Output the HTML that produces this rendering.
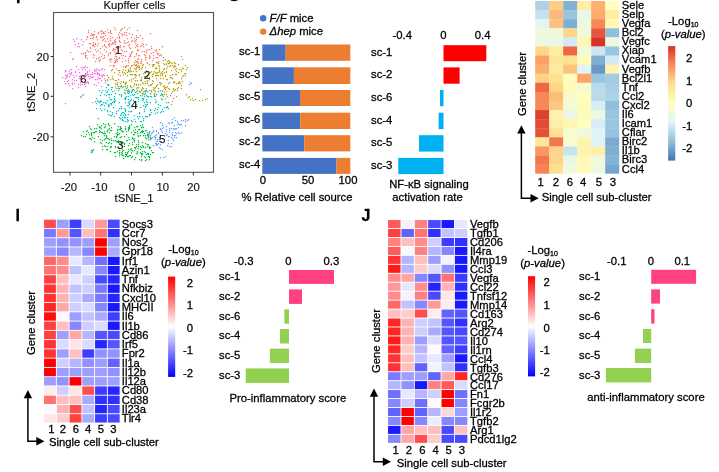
<!DOCTYPE html>
<html lang="en">
<head>
<meta charset="utf-8">
<title>Kupffer cells single cell sub-cluster figure</title>
<style>
html,body{margin:0;padding:0;background:#fff;}
body{width:719px;height:472px;overflow:hidden;}
svg{display:block;font-family:'Liberation Sans', Arial, Helvetica, sans-serif;}
text{fill:#000;stroke:#000;stroke-width:0.28px;paint-order:stroke;}
</style>
</head>
<body>
<svg width="719" height="472" viewBox="0 0 719 472">
<rect x="0" y="0" width="719" height="472" fill="#fff"/>
<rect x="53.50" y="12.50" width="160.00" height="159.80" fill="#FFFFFF" stroke="#555555" stroke-width="1.1"/>
<path d="M124.5 27.5h0M149.5 49.5h0M111.5 59.5h0M95.5 43.5h0M123.5 46.5h0M151.5 46.5h0M97.5 45.5h0M93.5 57.5h0M135.5 60.5h0M118.5 47.5h0M110.5 61.5h0M153.5 52.5h0M110.5 58.5h0M102.5 46.5h0M113.5 65.5h0M88.5 51.5h0M62.5 77.5h0M143.5 46.5h0M73.5 58.5h0M135.5 69.5h0M105.5 31.5h0M131.5 53.5h0M143.5 44.5h0M171.5 104.5h0M125.5 43.5h0M150.5 33.5h0M108.5 44.5h0M96.5 51.5h0M156.5 57.5h0M149.5 55.5h0M139.5 55.5h0M104.5 44.5h0M128.5 58.5h0M100.5 48.5h0M110.5 53.5h0M119.5 46.5h0M137.5 30.5h0M115.5 39.5h0M132.5 65.5h0M142.5 65.5h0M141.5 59.5h0M115.5 41.5h0M129.5 33.5h0M147.5 63.5h0M173.5 98.5h0M109.5 59.5h0M100.5 31.5h0M172.5 101.5h0M115.5 56.5h0M129.5 27.5h0M103.5 33.5h0M99.5 60.5h0M120.5 30.5h0M140.5 62.5h0M121.5 55.5h0M136.5 61.5h0M157.5 62.5h0M105.5 41.5h0M136.5 54.5h0M85.5 56.5h0M92.5 34.5h0M117.5 46.5h0M93.5 54.5h0M136.5 39.5h0M182.5 59.5h0M92.5 102.5h0M200.5 89.5h0M90.5 51.5h0M117.5 61.5h0M117.5 48.5h0M145.5 57.5h0M114.5 58.5h0M102.5 40.5h0M128.5 45.5h0M85.5 55.5h0M94.5 31.5h0M146.5 57.5h0M129.5 56.5h0M144.5 54.5h0M141.5 61.5h0M94.5 46.5h0M109.5 44.5h0M153.5 58.5h0M110.5 40.5h0M138.5 58.5h0M92.5 45.5h0M124.5 51.5h0M103.5 58.5h0M87.5 36.5h0M149.5 56.5h0M106.5 51.5h0M106.5 47.5h0M119.5 57.5h0M109.5 46.5h0M127.5 29.5h0M93.5 37.5h0M110.5 31.5h0M114.5 42.5h0M108.5 45.5h0M101.5 33.5h0M161.5 55.5h0M119.5 37.5h0M128.5 60.5h0M108.5 55.5h0M138.5 67.5h0M102.5 31.5h0M114.5 51.5h0M124.5 46.5h0M131.5 52.5h0M121.5 33.5h0M122.5 28.5h0M94.5 34.5h0M124.5 40.5h0M120.5 45.5h0M85.5 52.5h0M142.5 38.5h0M131.5 41.5h0M151.5 48.5h0M128.5 62.5h0M129.5 44.5h0M112.5 42.5h0M137.5 44.5h0M128.5 65.5h0M117.5 59.5h0M156.5 49.5h0M119.5 40.5h0M90.5 48.5h0M116.5 52.5h0M115.5 44.5h0M121.5 53.5h0M159.5 49.5h0M137.5 61.5h0M92.5 35.5h0M130.5 54.5h0M101.5 37.5h0M150.5 57.5h0M126.5 32.5h0M124.5 51.5h0M112.5 43.5h0M108.5 32.5h0M160.5 54.5h0M104.5 57.5h0M146.5 50.5h0M119.5 32.5h0M142.5 51.5h0M153.5 55.5h0M136.5 45.5h0M129.5 47.5h0M119.5 38.5h0M134.5 41.5h0M109.5 43.5h0M99.5 61.5h0M124.5 42.5h0M138.5 55.5h0M111.5 33.5h0M90.5 35.5h0M110.5 65.5h0M140.5 80.5h0M120.5 47.5h0M126.5 65.5h0M136.5 35.5h0M152.5 60.5h0M122.5 58.5h0M100.5 36.5h0M96.5 36.5h0M86.5 39.5h0M81.5 53.5h0M93.5 35.5h0M144.5 51.5h0M130.5 55.5h0M132.5 51.5h0M115.5 29.5h0M104.5 55.5h0M156.5 51.5h0M90.5 47.5h0M134.5 62.5h0M145.5 55.5h0M118.5 34.5h0M124.5 34.5h0M115.5 42.5h0M146.5 44.5h0M105.5 41.5h0M125.5 56.5h0M127.5 42.5h0M127.5 38.5h0M116.5 58.5h0M136.5 65.5h0M117.5 37.5h0M115.5 49.5h0M113.5 66.5h0M120.5 75.5h0M110.5 38.5h0M87.5 50.5h0M132.5 40.5h0M85.5 53.5h0M85.5 57.5h0M87.5 37.5h0M119.5 36.5h0M103.5 32.5h0M95.5 49.5h0M102.5 54.5h0M86.5 55.5h0M121.5 29.5h0M138.5 37.5h0M94.5 55.5h0M101.5 30.5h0M137.5 59.5h0M138.5 63.5h0M126.5 51.5h0M135.5 40.5h0M102.5 37.5h0M158.5 53.5h0M87.5 58.5h0M111.5 44.5h0M135.5 47.5h0M119.5 41.5h0M145.5 59.5h0M88.5 32.5h0M112.5 50.5h0M149.5 58.5h0M101.5 56.5h0M98.5 32.5h0M108.5 53.5h0M132.5 34.5h0M122.5 58.5h0M116.5 56.5h0M110.5 32.5h0M151.5 53.5h0M100.5 52.5h0M158.5 61.5h0M146.5 52.5h0M114.5 27.5h0M136.5 53.5h0M126.5 66.5h0M140.5 46.5h0M103.5 39.5h0M119.5 58.5h0M98.5 50.5h0M131.5 37.5h0M137.5 49.5h0M107.5 29.5h0M115.5 62.5h0M115.5 54.5h0M128.5 41.5h0M93.5 44.5h0M115.5 60.5h0M126.5 35.5h0M130.5 56.5h0M90.5 38.5h0M137.5 46.5h0M104.5 45.5h0M137.5 50.5h0M147.5 62.5h0M124.5 32.5h0M138.5 50.5h0M115.5 61.5h0M122.5 35.5h0M105.5 46.5h0M116.5 68.5h0M103.5 36.5h0M157.5 53.5h0M100.5 59.5h0M114.5 62.5h0M110.5 30.5h0M123.5 55.5h0M142.5 43.5h0M141.5 45.5h0M112.5 37.5h0M136.5 37.5h0M114.5 49.5h0M135.5 43.5h0M95.5 61.5h0M122.5 34.5h0M122.5 50.5h0M99.5 57.5h0M113.5 48.5h0M181.5 56.5h0M130.5 48.5h0M96.5 37.5h0M108.5 41.5h0M140.5 35.5h0M93.5 45.5h0M143.5 64.5h0M134.5 56.5h0M157.5 57.5h0M83.5 53.5h0M139.5 66.5h0M122.5 61.5h0M116.5 60.5h0M95.5 44.5h0M123.5 66.5h0M91.5 33.5h0M98.5 43.5h0M104.5 38.5h0M90.5 43.5h0M93.5 42.5h0M110.5 36.5h0M110.5 52.5h0M165.5 59.5h0M157.5 54.5h0M114.5 40.5h0M89.5 43.5h0M98.5 58.5h0M96.5 58.5h0M113.5 49.5h0M121.5 49.5h0M98.5 33.5h0M114.5 65.5h0M125.5 60.5h0M113.5 43.5h0M92.5 38.5h0M159.5 55.5h0M155.5 50.5h0M105.5 35.5h0M107.5 38.5h0M104.5 33.5h0M147.5 49.5h0M97.5 39.5h0M104.5 49.5h0M120.5 42.5h0M93.5 34.5h0M134.5 38.5h0" stroke="#F8766D" stroke-width="1.25" stroke-linecap="square" fill="none" opacity="0.95"/>
<path d="M133.5 78.5h0M129.5 80.5h0M125.5 66.5h0M147.5 81.5h0M136.5 84.5h0M176.5 96.5h0M179.5 69.5h0M122.5 87.5h0M148.5 71.5h0M110.5 79.5h0M168.5 83.5h0M164.5 88.5h0M107.5 80.5h0M178.5 64.5h0M137.5 61.5h0M175.5 63.5h0M127.5 90.5h0M175.5 69.5h0M185.5 65.5h0M154.5 88.5h0M107.5 75.5h0M139.5 69.5h0M125.5 83.5h0M171.5 77.5h0M182.5 76.5h0M125.5 86.5h0M164.5 68.5h0M156.5 67.5h0M163.5 69.5h0M140.5 92.5h0M153.5 81.5h0M145.5 76.5h0M173.5 88.5h0M165.5 98.5h0M113.5 79.5h0M172.5 78.5h0M128.5 69.5h0M130.5 74.5h0M117.5 82.5h0M179.5 82.5h0M128.5 89.5h0M163.5 96.5h0M124.5 72.5h0M167.5 61.5h0M202.5 100.5h0M158.5 75.5h0M114.5 72.5h0M156.5 86.5h0M120.5 83.5h0M166.5 64.5h0M147.5 96.5h0M111.5 70.5h0M169.5 62.5h0M130.5 85.5h0M153.5 65.5h0M136.5 85.5h0M118.5 74.5h0M174.5 62.5h0M134.5 64.5h0M144.5 91.5h0M145.5 83.5h0M139.5 75.5h0M132.5 90.5h0M181.5 71.5h0M150.5 93.5h0M141.5 80.5h0M158.5 88.5h0M155.5 72.5h0M125.5 73.5h0M165.5 87.5h0M170.5 75.5h0M152.5 83.5h0M127.5 92.5h0M123.5 81.5h0M155.5 75.5h0M162.5 71.5h0M142.5 88.5h0M169.5 63.5h0M143.5 83.5h0M134.5 84.5h0M147.5 83.5h0M141.5 68.5h0M124.5 89.5h0M141.5 79.5h0M164.5 94.5h0M183.5 68.5h0M137.5 87.5h0M112.5 78.5h0M136.5 91.5h0M177.5 88.5h0M152.5 66.5h0M165.5 75.5h0M163.5 78.5h0M164.5 72.5h0M142.5 67.5h0M137.5 66.5h0M169.5 61.5h0M116.5 88.5h0M135.5 77.5h0M166.5 72.5h0M134.5 62.5h0M172.5 65.5h0M151.5 84.5h0M134.5 74.5h0M166.5 87.5h0M176.5 71.5h0M165.5 89.5h0M138.5 84.5h0M175.5 89.5h0M166.5 68.5h0M155.5 68.5h0M119.5 70.5h0M115.5 80.5h0M138.5 65.5h0M146.5 88.5h0M160.5 73.5h0M160.5 82.5h0M190.5 99.5h0M135.5 75.5h0M174.5 82.5h0M143.5 73.5h0M127.5 75.5h0M159.5 82.5h0M142.5 82.5h0M131.5 79.5h0M178.5 87.5h0M199.5 100.5h0M161.5 94.5h0M112.5 76.5h0M192.5 98.5h0M112.5 69.5h0M133.5 71.5h0M145.5 67.5h0M186.5 94.5h0M207.5 98.5h0M146.5 70.5h0M152.5 64.5h0M168.5 88.5h0M160.5 84.5h0M156.5 75.5h0M173.5 89.5h0M116.5 84.5h0M139.5 67.5h0M152.5 80.5h0M180.5 83.5h0M127.5 85.5h0M149.5 77.5h0M177.5 90.5h0M143.5 93.5h0M153.5 87.5h0M156.5 68.5h0M136.5 64.5h0M176.5 83.5h0M132.5 74.5h0M153.5 73.5h0M205.5 99.5h0M147.5 71.5h0M135.5 65.5h0M143.5 91.5h0M158.5 65.5h0M162.5 74.5h0M108.5 85.5h0M149.5 79.5h0M181.5 85.5h0M131.5 74.5h0M181.5 78.5h0M145.5 91.5h0M154.5 71.5h0M176.5 68.5h0M149.5 64.5h0M187.5 67.5h0M122.5 71.5h0M176.5 68.5h0M123.5 86.5h0M123.5 82.5h0M172.5 63.5h0M162.5 75.5h0M164.5 92.5h0M130.5 67.5h0M128.5 71.5h0M154.5 90.5h0M159.5 71.5h0M117.5 84.5h0M162.5 91.5h0M121.5 86.5h0M182.5 67.5h0M171.5 93.5h0M171.5 70.5h0M154.5 90.5h0M156.5 85.5h0M193.5 100.5h0M119.5 88.5h0M125.5 84.5h0M189.5 96.5h0M178.5 72.5h0M144.5 76.5h0M125.5 70.5h0M143.5 88.5h0M139.5 67.5h0M154.5 95.5h0M168.5 60.5h0M155.5 91.5h0M149.5 90.5h0M134.5 83.5h0M153.5 89.5h0M173.5 82.5h0M166.5 91.5h0M127.5 72.5h0M157.5 75.5h0M185.5 73.5h0M134.5 90.5h0M176.5 74.5h0M166.5 94.5h0M130.5 86.5h0M172.5 74.5h0M167.5 66.5h0M125.5 73.5h0M154.5 93.5h0M174.5 66.5h0M166.5 71.5h0M156.5 62.5h0M175.5 74.5h0M184.5 73.5h0M130.5 70.5h0M167.5 79.5h0M124.5 92.5h0M154.5 94.5h0M175.5 66.5h0M169.5 66.5h0M131.5 65.5h0M118.5 79.5h0M123.5 69.5h0M133.5 86.5h0M179.5 81.5h0M171.5 62.5h0M130.5 68.5h0M161.5 72.5h0M166.5 79.5h0M169.5 89.5h0M164.5 85.5h0M172.5 91.5h0M146.5 90.5h0M131.5 81.5h0M154.5 64.5h0M186.5 69.5h0M158.5 72.5h0M136.5 88.5h0M155.5 96.5h0M136.5 75.5h0M118.5 86.5h0M174.5 65.5h0M165.5 76.5h0M162.5 73.5h0M147.5 76.5h0M163.5 63.5h0M164.5 87.5h0M195.5 99.5h0M131.5 71.5h0M178.5 82.5h0M147.5 77.5h0M118.5 90.5h0M126.5 82.5h0M160.5 75.5h0M155.5 87.5h0M141.5 77.5h0M169.5 82.5h0M156.5 73.5h0M159.5 71.5h0M114.5 90.5h0M143.5 93.5h0M159.5 68.5h0M157.5 84.5h0M134.5 68.5h0M159.5 70.5h0M162.5 90.5h0M108.5 77.5h0M158.5 63.5h0M160.5 78.5h0M183.5 75.5h0M135.5 74.5h0M147.5 80.5h0M136.5 67.5h0M150.5 84.5h0M167.5 96.5h0M174.5 81.5h0M131.5 87.5h0M115.5 83.5h0M142.5 87.5h0M163.5 60.5h0M137.5 62.5h0M122.5 72.5h0M185.5 75.5h0M168.5 63.5h0M152.5 74.5h0M107.5 79.5h0M115.5 86.5h0M150.5 72.5h0M135.5 80.5h0M161.5 83.5h0M156.5 78.5h0M88.5 30.5h0M182.5 81.5h0M116.5 80.5h0M136.5 71.5h0M188.5 97.5h0M125.5 82.5h0M174.5 90.5h0M181.5 69.5h0M138.5 87.5h0M125.5 67.5h0M121.5 81.5h0M173.5 67.5h0M145.5 81.5h0M139.5 74.5h0M137.5 80.5h0M163.5 86.5h0M148.5 75.5h0M170.5 65.5h0M141.5 89.5h0M142.5 95.5h0M141.5 63.5h0M164.5 64.5h0M151.5 90.5h0M139.5 91.5h0M123.5 74.5h0M129.5 71.5h0M178.5 83.5h0M152.5 76.5h0M136.5 68.5h0M181.5 88.5h0M166.5 63.5h0M118.5 70.5h0M119.5 72.5h0M151.5 71.5h0M125.5 82.5h0M148.5 85.5h0M167.5 86.5h0M142.5 65.5h0M159.5 66.5h0M153.5 64.5h0M170.5 77.5h0M157.5 72.5h0" stroke="#B79F00" stroke-width="1.25" stroke-linecap="square" fill="none" opacity="0.95"/>
<path d="M126.5 134.5h0M86.5 134.5h0M93.5 132.5h0M138.5 136.5h0M114.5 152.5h0M121.5 136.5h0M150.5 147.5h0M141.5 131.5h0M141.5 154.5h0M100.5 139.5h0M101.5 132.5h0M123.5 155.5h0M98.5 118.5h0M134.5 134.5h0M151.5 150.5h0M142.5 142.5h0M150.5 135.5h0M117.5 129.5h0M108.5 123.5h0M120.5 137.5h0M148.5 153.5h0M146.5 159.5h0M135.5 132.5h0M143.5 135.5h0M105.5 138.5h0M145.5 130.5h0M143.5 146.5h0M136.5 146.5h0M99.5 130.5h0M94.5 128.5h0M118.5 126.5h0M104.5 131.5h0M115.5 146.5h0M143.5 127.5h0M142.5 132.5h0M139.5 129.5h0M140.5 152.5h0M149.5 131.5h0M137.5 126.5h0M142.5 153.5h0M145.5 147.5h0M107.5 146.5h0M146.5 138.5h0M107.5 130.5h0M125.5 156.5h0M134.5 150.5h0M102.5 146.5h0M144.5 151.5h0M116.5 141.5h0M142.5 154.5h0M143.5 147.5h0M145.5 137.5h0M109.5 128.5h0M131.5 124.5h0M91.5 139.5h0M134.5 127.5h0M121.5 143.5h0M128.5 145.5h0M132.5 150.5h0M122.5 153.5h0M91.5 129.5h0M106.5 142.5h0M107.5 138.5h0M144.5 156.5h0M109.5 132.5h0M94.5 141.5h0M105.5 146.5h0M149.5 132.5h0M106.5 135.5h0M96.5 128.5h0M141.5 127.5h0M115.5 140.5h0M145.5 152.5h0M110.5 151.5h0M124.5 144.5h0M120.5 142.5h0M150.5 137.5h0M147.5 153.5h0M83.5 131.5h0M98.5 136.5h0M149.5 148.5h0M123.5 150.5h0M128.5 156.5h0M132.5 138.5h0M120.5 129.5h0M138.5 142.5h0M117.5 151.5h0M119.5 155.5h0M135.5 129.5h0M120.5 128.5h0M83.5 136.5h0M103.5 133.5h0M129.5 127.5h0M111.5 130.5h0M104.5 135.5h0M116.5 133.5h0M132.5 137.5h0M123.5 142.5h0M147.5 134.5h0M148.5 137.5h0M131.5 148.5h0M136.5 144.5h0M99.5 127.5h0M94.5 138.5h0M155.5 137.5h0M125.5 152.5h0M104.5 139.5h0M123.5 131.5h0M127.5 140.5h0M149.5 156.5h0M145.5 157.5h0M133.5 139.5h0M107.5 149.5h0M125.5 154.5h0M128.5 127.5h0M115.5 152.5h0M138.5 135.5h0M149.5 147.5h0M122.5 155.5h0M125.5 129.5h0M126.5 131.5h0M147.5 144.5h0M94.5 132.5h0M152.5 152.5h0M134.5 159.5h0M121.5 152.5h0M132.5 144.5h0M113.5 140.5h0M138.5 146.5h0M148.5 134.5h0M117.5 141.5h0M137.5 151.5h0M134.5 138.5h0M114.5 136.5h0M140.5 132.5h0M121.5 154.5h0M128.5 130.5h0M150.5 138.5h0M134.5 141.5h0M133.5 130.5h0M106.5 136.5h0M91.5 133.5h0M135.5 148.5h0M111.5 138.5h0M105.5 126.5h0M149.5 146.5h0M140.5 135.5h0M135.5 147.5h0M125.5 128.5h0M93.5 149.5h0M136.5 153.5h0M130.5 155.5h0M134.5 132.5h0M118.5 140.5h0M108.5 129.5h0M119.5 152.5h0M129.5 143.5h0M138.5 148.5h0M124.5 146.5h0M148.5 139.5h0M131.5 152.5h0M119.5 150.5h0M108.5 138.5h0M119.5 143.5h0M123.5 158.5h0M153.5 145.5h0M91.5 134.5h0M91.5 135.5h0M121.5 145.5h0M104.5 127.5h0M138.5 129.5h0M148.5 156.5h0M110.5 130.5h0M136.5 126.5h0M124.5 143.5h0M119.5 133.5h0M122.5 131.5h0M141.5 156.5h0M145.5 143.5h0M128.5 137.5h0M96.5 131.5h0M149.5 157.5h0M135.5 157.5h0M131.5 157.5h0M149.5 159.5h0M149.5 133.5h0M100.5 131.5h0M108.5 143.5h0M150.5 138.5h0M134.5 140.5h0M124.5 136.5h0M130.5 149.5h0M131.5 132.5h0M128.5 151.5h0M141.5 153.5h0M107.5 131.5h0M101.5 125.5h0M90.5 138.5h0M99.5 132.5h0M131.5 132.5h0M141.5 160.5h0M129.5 139.5h0M138.5 140.5h0M119.5 129.5h0M110.5 147.5h0M89.5 134.5h0M128.5 128.5h0M110.5 146.5h0M144.5 133.5h0M121.5 128.5h0M126.5 155.5h0M117.5 130.5h0M92.5 137.5h0M140.5 149.5h0M121.5 130.5h0M89.5 138.5h0M142.5 126.5h0M103.5 123.5h0M100.5 127.5h0M118.5 134.5h0M142.5 124.5h0M131.5 150.5h0M140.5 146.5h0M129.5 128.5h0M128.5 149.5h0M111.5 127.5h0M146.5 154.5h0M81.5 135.5h0M133.5 134.5h0M97.5 124.5h0M127.5 153.5h0M100.5 142.5h0M115.5 156.5h0M126.5 140.5h0M122.5 146.5h0M117.5 134.5h0M89.5 126.5h0M141.5 159.5h0M101.5 143.5h0M147.5 146.5h0M119.5 153.5h0M121.5 142.5h0M139.5 159.5h0M106.5 137.5h0M128.5 129.5h0M91.5 150.5h0M102.5 140.5h0M109.5 142.5h0M120.5 118.5h0M108.5 124.5h0M117.5 135.5h0M120.5 126.5h0M99.5 126.5h0M142.5 131.5h0M134.5 147.5h0M102.5 149.5h0M109.5 125.5h0M101.5 128.5h0M95.5 131.5h0M85.5 136.5h0M116.5 136.5h0M90.5 128.5h0M127.5 152.5h0M105.5 124.5h0M126.5 154.5h0M111.5 143.5h0M92.5 151.5h0M122.5 149.5h0M140.5 125.5h0M122.5 151.5h0M86.5 131.5h0M109.5 139.5h0M153.5 152.5h0M127.5 156.5h0M132.5 156.5h0M116.5 137.5h0M105.5 133.5h0M137.5 133.5h0M145.5 160.5h0M114.5 123.5h0M137.5 152.5h0M104.5 145.5h0M111.5 146.5h0M91.5 152.5h0M145.5 135.5h0M142.5 130.5h0M102.5 132.5h0M142.5 151.5h0M120.5 127.5h0M111.5 140.5h0M129.5 125.5h0M117.5 132.5h0M146.5 130.5h0M108.5 143.5h0M137.5 131.5h0M138.5 144.5h0M115.5 147.5h0M143.5 131.5h0M147.5 135.5h0M132.5 142.5h0M87.5 130.5h0M150.5 154.5h0M141.5 147.5h0M125.5 126.5h0M121.5 136.5h0M142.5 145.5h0M148.5 136.5h0M119.5 148.5h0M129.5 155.5h0M104.5 133.5h0M106.5 149.5h0M129.5 126.5h0M88.5 132.5h0M91.5 132.5h0M148.5 144.5h0M148.5 154.5h0" stroke="#00BA38" stroke-width="1.25" stroke-linecap="square" fill="none" opacity="0.95"/>
<path d="M111.5 115.5h0M123.5 112.5h0M108.5 114.5h0M131.5 120.5h0M143.5 99.5h0M125.5 97.5h0M151.5 112.5h0M145.5 104.5h0M118.5 86.5h0M127.5 119.5h0M125.5 121.5h0M130.5 111.5h0M128.5 96.5h0M121.5 96.5h0M156.5 101.5h0M134.5 94.5h0M113.5 101.5h0M109.5 94.5h0M141.5 121.5h0M146.5 116.5h0M125.5 109.5h0M107.5 84.5h0M166.5 102.5h0M125.5 117.5h0M162.5 99.5h0M110.5 99.5h0M138.5 101.5h0M144.5 102.5h0M119.5 94.5h0M107.5 110.5h0M160.5 95.5h0M139.5 112.5h0M144.5 94.5h0M131.5 99.5h0M135.5 97.5h0M134.5 101.5h0M137.5 93.5h0M130.5 100.5h0M158.5 91.5h0M107.5 91.5h0M111.5 87.5h0M104.5 109.5h0M114.5 101.5h0M168.5 108.5h0M145.5 107.5h0M161.5 98.5h0M150.5 93.5h0M167.5 107.5h0M157.5 112.5h0M107.5 111.5h0M147.5 102.5h0M140.5 84.5h0M142.5 98.5h0M127.5 117.5h0M150.5 96.5h0M128.5 91.5h0M163.5 111.5h0M126.5 88.5h0M161.5 93.5h0M162.5 94.5h0M143.5 98.5h0M122.5 119.5h0M101.5 92.5h0M133.5 100.5h0M150.5 110.5h0M129.5 104.5h0M101.5 104.5h0M163.5 57.5h0M162.5 95.5h0M161.5 111.5h0M121.5 85.5h0M97.5 100.5h0M133.5 89.5h0M111.5 94.5h0M129.5 107.5h0M150.5 109.5h0M138.5 97.5h0M129.5 103.5h0M142.5 100.5h0M110.5 111.5h0M106.5 95.5h0M149.5 115.5h0M160.5 90.5h0M143.5 120.5h0M125.5 111.5h0M126.5 96.5h0M150.5 102.5h0M155.5 102.5h0M129.5 90.5h0M147.5 96.5h0M146.5 101.5h0M135.5 92.5h0M98.5 101.5h0M119.5 88.5h0M127.5 90.5h0M132.5 90.5h0M143.5 105.5h0M139.5 91.5h0M150.5 114.5h0M121.5 106.5h0M114.5 96.5h0M160.5 122.5h0M108.5 105.5h0M115.5 93.5h0M131.5 91.5h0M144.5 96.5h0M101.5 110.5h0M125.5 115.5h0M109.5 97.5h0M108.5 104.5h0M145.5 93.5h0M123.5 120.5h0M128.5 93.5h0M105.5 102.5h0M141.5 90.5h0M147.5 116.5h0M95.5 101.5h0M112.5 102.5h0M100.5 101.5h0M124.5 117.5h0M125.5 114.5h0M162.5 109.5h0M139.5 116.5h0M105.5 90.5h0M158.5 104.5h0M151.5 91.5h0M116.5 111.5h0M164.5 107.5h0M155.5 113.5h0M132.5 121.5h0M154.5 95.5h0M114.5 99.5h0M110.5 115.5h0M166.5 102.5h0M125.5 86.5h0M111.5 99.5h0M141.5 90.5h0M107.5 100.5h0M99.5 90.5h0M125.5 98.5h0M120.5 115.5h0M127.5 87.5h0M143.5 118.5h0M137.5 116.5h0M127.5 121.5h0M113.5 107.5h0M124.5 108.5h0M125.5 90.5h0M136.5 104.5h0M116.5 113.5h0M128.5 99.5h0M111.5 89.5h0M118.5 110.5h0M110.5 103.5h0M123.5 115.5h0M139.5 113.5h0M166.5 107.5h0M121.5 113.5h0M106.5 87.5h0M144.5 111.5h0M125.5 102.5h0M148.5 96.5h0M170.5 95.5h0M122.5 120.5h0M155.5 99.5h0M114.5 102.5h0M112.5 87.5h0M132.5 89.5h0M137.5 90.5h0M92.5 150.5h0M133.5 95.5h0M125.5 99.5h0M108.5 94.5h0M142.5 93.5h0M157.5 109.5h0M108.5 84.5h0M137.5 97.5h0M134.5 119.5h0M119.5 117.5h0M128.5 111.5h0M109.5 105.5h0M121.5 108.5h0M150.5 93.5h0M103.5 102.5h0M128.5 102.5h0M102.5 104.5h0M146.5 99.5h0M99.5 102.5h0M124.5 113.5h0M162.5 46.5h0M129.5 92.5h0M131.5 92.5h0M120.5 86.5h0M128.5 114.5h0M145.5 106.5h0M111.5 104.5h0M100.5 100.5h0M138.5 118.5h0M121.5 114.5h0M151.5 96.5h0M147.5 91.5h0M104.5 94.5h0M140.5 121.5h0M105.5 90.5h0M138.5 99.5h0M160.5 112.5h0M156.5 94.5h0M121.5 94.5h0M112.5 114.5h0M140.5 107.5h0M154.5 96.5h0M128.5 105.5h0M104.5 105.5h0M135.5 121.5h0M124.5 98.5h0M101.5 101.5h0M154.5 110.5h0M122.5 117.5h0M106.5 103.5h0M149.5 114.5h0M140.5 95.5h0M160.5 105.5h0M115.5 100.5h0M147.5 104.5h0M120.5 118.5h0M100.5 95.5h0M129.5 101.5h0M145.5 90.5h0M144.5 109.5h0M158.5 107.5h0M108.5 89.5h0M155.5 108.5h0M96.5 98.5h0M146.5 95.5h0M134.5 115.5h0M131.5 111.5h0M132.5 94.5h0M114.5 116.5h0M108.5 106.5h0M142.5 116.5h0M128.5 120.5h0M133.5 95.5h0M111.5 103.5h0M119.5 108.5h0M105.5 80.5h0M122.5 112.5h0M136.5 97.5h0M96.5 108.5h0M125.5 110.5h0M121.5 95.5h0M118.5 88.5h0M114.5 98.5h0M106.5 92.5h0M100.5 105.5h0M127.5 105.5h0M100.5 108.5h0M168.5 102.5h0M112.5 91.5h0M167.5 106.5h0M119.5 102.5h0M125.5 93.5h0M146.5 105.5h0M145.5 116.5h0M132.5 106.5h0M102.5 90.5h0M112.5 112.5h0M128.5 70.5h0" stroke="#00BFC4" stroke-width="1.25" stroke-linecap="square" fill="none" opacity="0.95"/>
<path d="M157.5 141.5h0M65.5 103.5h0M169.5 128.5h0M175.5 135.5h0M172.5 132.5h0M177.5 124.5h0M160.5 148.5h0M168.5 122.5h0M176.5 128.5h0M159.5 139.5h0M152.5 132.5h0M148.5 135.5h0M156.5 141.5h0M168.5 136.5h0M154.5 136.5h0M178.5 132.5h0M162.5 142.5h0M160.5 128.5h0M152.5 137.5h0M169.5 136.5h0M163.5 157.5h0M176.5 133.5h0M166.5 126.5h0M130.5 95.5h0M173.5 128.5h0M185.5 121.5h0M188.5 119.5h0M172.5 122.5h0M174.5 117.5h0M151.5 133.5h0M147.5 132.5h0M174.5 137.5h0M162.5 138.5h0M169.5 132.5h0M81.5 97.5h0M149.5 133.5h0M177.5 121.5h0M167.5 134.5h0M162.5 149.5h0M168.5 140.5h0M169.5 123.5h0M161.5 141.5h0M155.5 143.5h0M151.5 138.5h0M169.5 130.5h0M157.5 144.5h0M173.5 140.5h0M172.5 135.5h0M179.5 133.5h0M159.5 147.5h0M171.5 137.5h0M167.5 145.5h0M157.5 139.5h0M169.5 146.5h0M175.5 132.5h0M175.5 120.5h0M178.5 127.5h0M165.5 156.5h0M180.5 124.5h0M156.5 131.5h0M149.5 131.5h0M155.5 139.5h0M190.5 82.5h0M185.5 119.5h0M176.5 137.5h0M162.5 125.5h0M179.5 124.5h0M159.5 137.5h0M166.5 135.5h0M172.5 119.5h0M158.5 133.5h0M175.5 128.5h0M160.5 135.5h0M160.5 129.5h0M163.5 127.5h0M171.5 128.5h0M181.5 132.5h0M191.5 83.5h0M156.5 143.5h0M150.5 85.5h0M183.5 120.5h0M174.5 129.5h0M80.5 96.5h0M148.5 139.5h0M171.5 122.5h0M168.5 143.5h0M176.5 137.5h0M161.5 130.5h0M181.5 120.5h0M158.5 132.5h0M165.5 133.5h0M174.5 135.5h0M171.5 143.5h0M152.5 127.5h0M156.5 145.5h0M166.5 129.5h0M178.5 123.5h0M158.5 143.5h0M153.5 131.5h0M83.5 94.5h0M82.5 95.5h0M172.5 134.5h0M150.5 139.5h0M166.5 131.5h0M156.5 134.5h0M162.5 123.5h0M187.5 120.5h0M189.5 84.5h0M181.5 124.5h0M153.5 130.5h0M171.5 146.5h0M185.5 125.5h0M160.5 144.5h0M156.5 130.5h0M150.5 135.5h0M162.5 128.5h0M172.5 138.5h0M160.5 157.5h0M155.5 135.5h0M156.5 144.5h0M174.5 125.5h0M162.5 132.5h0M164.5 136.5h0" stroke="#619CFF" stroke-width="1.25" stroke-linecap="square" fill="none" opacity="0.95"/>
<path d="M69.5 76.5h0M88.5 82.5h0M68.5 80.5h0M73.5 39.5h0M79.5 76.5h0M87.5 71.5h0M71.5 72.5h0M98.5 82.5h0M79.5 46.5h0M84.5 77.5h0M92.5 72.5h0M103.5 74.5h0M70.5 74.5h0M94.5 73.5h0M99.5 74.5h0M96.5 68.5h0M65.5 75.5h0M79.5 72.5h0M94.5 71.5h0M68.5 83.5h0M90.5 76.5h0M88.5 83.5h0M78.5 69.5h0M80.5 84.5h0M70.5 69.5h0M79.5 78.5h0M87.5 72.5h0M102.5 68.5h0M101.5 86.5h0M74.5 83.5h0M101.5 69.5h0M88.5 76.5h0M67.5 81.5h0M80.5 82.5h0M85.5 73.5h0M95.5 73.5h0M93.5 76.5h0M72.5 84.5h0M78.5 84.5h0M69.5 73.5h0M74.5 77.5h0M102.5 76.5h0M100.5 78.5h0M65.5 71.5h0M85.5 83.5h0M97.5 74.5h0M74.5 41.5h0M101.5 80.5h0M65.5 78.5h0M85.5 66.5h0M86.5 82.5h0M97.5 73.5h0M67.5 74.5h0M92.5 77.5h0M98.5 69.5h0M72.5 82.5h0M86.5 75.5h0M81.5 39.5h0M82.5 78.5h0M76.5 75.5h0M69.5 85.5h0M71.5 73.5h0M91.5 77.5h0M95.5 70.5h0M95.5 79.5h0M75.5 71.5h0M87.5 81.5h0M92.5 74.5h0M94.5 69.5h0M65.5 70.5h0M81.5 81.5h0M75.5 72.5h0M72.5 59.5h0M76.5 66.5h0M83.5 75.5h0M83.5 76.5h0M87.5 67.5h0M85.5 74.5h0M76.5 38.5h0M78.5 87.5h0M83.5 41.5h0M72.5 79.5h0M94.5 84.5h0M66.5 75.5h0M84.5 84.5h0M67.5 76.5h0M86.5 73.5h0M78.5 43.5h0M84.5 67.5h0M83.5 67.5h0M90.5 74.5h0M97.5 72.5h0M88.5 74.5h0M65.5 83.5h0M99.5 75.5h0M74.5 80.5h0M89.5 78.5h0M82.5 84.5h0M77.5 46.5h0M99.5 70.5h0M66.5 77.5h0M96.5 70.5h0M87.5 74.5h0M82.5 69.5h0M99.5 78.5h0M64.5 81.5h0M76.5 80.5h0M104.5 75.5h0M105.5 82.5h0M102.5 75.5h0M82.5 78.5h0M71.5 69.5h0M89.5 70.5h0M69.5 71.5h0M82.5 81.5h0M104.5 78.5h0M85.5 69.5h0M72.5 88.5h0M82.5 44.5h0M96.5 85.5h0M83.5 76.5h0M73.5 75.5h0M97.5 79.5h0M98.5 77.5h0M101.5 75.5h0M96.5 103.5h0M75.5 44.5h0M70.5 52.5h0M104.5 69.5h0M80.5 75.5h0M85.5 86.5h0M98.5 73.5h0M81.5 67.5h0" stroke="#F564E3" stroke-width="1.25" stroke-linecap="square" fill="none" opacity="0.95"/>
<path d="M50.5 56.5H53.5" stroke="#333" stroke-width="1"/>
<text x="49.00" y="60.50" font-size="11.3" text-anchor="end" style="fill:#111111;stroke:#111111;stroke-width:0.15px">20</text>
<path d="M50.5 96.3H53.5" stroke="#333" stroke-width="1"/>
<text x="49.00" y="100.30" font-size="11.3" text-anchor="end" style="fill:#111111;stroke:#111111;stroke-width:0.15px">0</text>
<path d="M50.5 136.8H53.5" stroke="#333" stroke-width="1"/>
<text x="49.00" y="140.80" font-size="11.3" text-anchor="end" style="fill:#111111;stroke:#111111;stroke-width:0.15px">-20</text>
<path d="M70 172.3V175.5" stroke="#333" stroke-width="1"/>
<text x="68.80" y="190.50" font-size="11.3" text-anchor="middle" style="fill:#111111;stroke:#111111;stroke-width:0.15px">-20</text>
<path d="M100.6 172.3V175.5" stroke="#333" stroke-width="1"/>
<text x="99.40" y="190.50" font-size="11.3" text-anchor="middle" style="fill:#111111;stroke:#111111;stroke-width:0.15px">-10</text>
<path d="M131.5 172.3V175.5" stroke="#333" stroke-width="1"/>
<text x="131.80" y="190.50" font-size="11.3" text-anchor="middle" style="fill:#111111;stroke:#111111;stroke-width:0.15px">0</text>
<path d="M162.4 172.3V175.5" stroke="#333" stroke-width="1"/>
<text x="162.70" y="190.50" font-size="11.3" text-anchor="middle" style="fill:#111111;stroke:#111111;stroke-width:0.15px">10</text>
<path d="M193.3 172.3V175.5" stroke="#333" stroke-width="1"/>
<text x="193.60" y="190.50" font-size="11.3" text-anchor="middle" style="fill:#111111;stroke:#111111;stroke-width:0.15px">20</text>
<text x="134.00" y="201.60" font-size="11.3" text-anchor="middle" style="fill:#111111;stroke:#111111;stroke-width:0.15px">tSNE_1</text>
<text x="35.50" y="92.30" font-size="11.3" text-anchor="middle" transform="rotate(-90 35.50 92.30)" style="fill:#111111;stroke:#111111;stroke-width:0.15px">tSNE_2</text>
<text x="134.40" y="9.30" font-size="11.3" text-anchor="middle" style="fill:#111111;stroke:#111111;stroke-width:0.15px">Kupffer cells</text>
<text x="118.10" y="53.70" font-size="11.8" text-anchor="middle" style="fill:#1A1A1A;stroke:#1A1A1A;stroke-width:0.15px">1</text>
<text x="147.00" y="78.60" font-size="11.8" text-anchor="middle" style="fill:#1A1A1A;stroke:#1A1A1A;stroke-width:0.15px">2</text>
<text x="83.40" y="83.30" font-size="11.8" text-anchor="middle" style="fill:#1A1A1A;stroke:#1A1A1A;stroke-width:0.15px">6</text>
<text x="134.30" y="108.90" font-size="11.8" text-anchor="middle" style="fill:#1A1A1A;stroke:#1A1A1A;stroke-width:0.15px">4</text>
<text x="120.20" y="148.50" font-size="11.8" text-anchor="middle" style="fill:#1A1A1A;stroke:#1A1A1A;stroke-width:0.15px">3</text>
<text x="162.40" y="142.50" font-size="11.8" text-anchor="middle" style="fill:#1A1A1A;stroke:#1A1A1A;stroke-width:0.15px">5</text>
<text x="15.90" y="2.60" font-size="16" font-weight="bold">F</text>
<text x="227.80" y="1.40" font-size="16" font-weight="bold">G</text>
<text x="15.60" y="220.90" font-size="16" font-weight="bold">I</text>
<text x="361.40" y="221.00" font-size="16" font-weight="bold">J</text>
<circle cx="263.2" cy="18.3" r="3.2" fill="#4472C4"/>
<circle cx="263.2" cy="31.6" r="3.2" fill="#ED7D31"/>
<text x="269.6" y="22.2" font-size="11.3"><tspan font-style="italic">F/F</tspan> mice</text>
<text x="269.6" y="35.0" font-size="11.3"><tspan font-style="italic">&#916;hep</tspan> mice</text>
<rect x="262.30" y="44.50" width="23.40" height="16.30" fill="#4472C4"/>
<rect x="285.70" y="44.50" width="64.60" height="16.30" fill="#ED7D31"/>
<text x="239.00" y="54.75" font-size="11.3">sc-1</text>
<rect x="262.30" y="67.30" width="31.60" height="16.70" fill="#4472C4"/>
<rect x="293.90" y="67.30" width="56.40" height="16.70" fill="#ED7D31"/>
<text x="239.00" y="77.75" font-size="11.3">sc-3</text>
<rect x="262.30" y="90.00" width="37.70" height="16.00" fill="#4472C4"/>
<rect x="300.00" y="90.00" width="50.30" height="16.00" fill="#ED7D31"/>
<text x="239.00" y="100.10" font-size="11.3">sc-5</text>
<rect x="262.30" y="112.70" width="37.90" height="16.30" fill="#4472C4"/>
<rect x="300.20" y="112.70" width="50.10" height="16.30" fill="#ED7D31"/>
<text x="239.00" y="122.95" font-size="11.3">sc-6</text>
<rect x="262.30" y="135.20" width="41.90" height="16.20" fill="#4472C4"/>
<rect x="304.20" y="135.20" width="46.10" height="16.20" fill="#ED7D31"/>
<text x="239.00" y="145.40" font-size="11.3">sc-2</text>
<rect x="262.30" y="157.90" width="74.20" height="16.00" fill="#4472C4"/>
<rect x="336.50" y="157.90" width="13.80" height="16.00" fill="#ED7D31"/>
<text x="239.00" y="168.00" font-size="11.3">sc-4</text>
<text x="263.00" y="184.00" font-size="11.3" text-anchor="middle">0</text>
<text x="308.00" y="184.00" font-size="11.3" text-anchor="middle">50</text>
<text x="348.00" y="184.00" font-size="11.3" text-anchor="middle">100</text>
<text x="297.00" y="201.40" font-size="11.3" text-anchor="middle">% Relative cell source</text>
<rect x="443.50" y="45.20" width="42.80" height="16.00" fill="#FF0000"/>
<text x="371.00" y="55.89" font-size="11.3">sc-1</text>
<rect x="443.50" y="67.40" width="16.10" height="16.30" fill="#FF0000"/>
<text x="371.00" y="78.24" font-size="11.3">sc-2</text>
<rect x="440.00" y="90.00" width="3.50" height="16.20" fill="#00B0F0"/>
<text x="371.00" y="100.79" font-size="11.3">sc-6</text>
<rect x="438.60" y="112.70" width="4.90" height="16.50" fill="#00B0F0"/>
<text x="371.00" y="123.64" font-size="11.3">sc-4</text>
<rect x="419.00" y="135.20" width="24.50" height="16.40" fill="#00B0F0"/>
<text x="371.00" y="146.09" font-size="11.3">sc-5</text>
<rect x="398.30" y="157.90" width="45.20" height="16.20" fill="#00B0F0"/>
<text x="371.00" y="168.69" font-size="11.3">sc-3</text>
<text x="402.30" y="39.17" font-size="11.3" text-anchor="middle">-0.4</text>
<text x="443.50" y="39.17" font-size="11.3" text-anchor="middle">0</text>
<text x="482.70" y="39.17" font-size="11.3" text-anchor="middle">0.4</text>
<text x="429.00" y="188.20" font-size="11.3" text-anchor="middle">NF-&#954;B signaling</text>
<text x="427.50" y="201.40" font-size="11.3" text-anchor="middle">activation rate</text>
<g>
<rect x="535.20" y="1.00" width="14.30" height="9.39" fill="#ADD1E5"/>
<rect x="549.20" y="1.00" width="14.30" height="9.39" fill="#FECC83"/>
<rect x="563.20" y="1.00" width="14.30" height="9.39" fill="#84B2D4"/>
<rect x="577.20" y="1.00" width="14.30" height="9.39" fill="#FEEDA3"/>
<rect x="591.20" y="1.00" width="14.30" height="9.39" fill="#FDAF70"/>
<rect x="605.20" y="1.00" width="14.00" height="9.39" fill="#FFFFBF"/>
<rect x="535.20" y="10.09" width="14.30" height="9.39" fill="#C4E1EE"/>
<rect x="549.20" y="10.09" width="14.30" height="9.39" fill="#FDB976"/>
<rect x="563.20" y="10.09" width="14.30" height="9.39" fill="#9AC5DE"/>
<rect x="577.20" y="10.09" width="14.30" height="9.39" fill="#E9F7E7"/>
<rect x="591.20" y="10.09" width="14.30" height="9.39" fill="#FDAA6C"/>
<rect x="605.20" y="10.09" width="14.00" height="9.39" fill="#FEEDA3"/>
<rect x="535.20" y="19.18" width="14.30" height="9.39" fill="#E2F4F5"/>
<rect x="549.20" y="19.18" width="14.30" height="9.39" fill="#FDC37D"/>
<rect x="563.20" y="19.18" width="14.30" height="9.39" fill="#7FAED2"/>
<rect x="577.20" y="19.18" width="14.30" height="9.39" fill="#EDF8E1"/>
<rect x="591.20" y="19.18" width="14.30" height="9.39" fill="#FA8856"/>
<rect x="605.20" y="19.18" width="14.00" height="9.39" fill="#FFF8B4"/>
<rect x="535.20" y="28.27" width="14.30" height="9.39" fill="#EFF9DD"/>
<rect x="549.20" y="28.27" width="14.30" height="9.39" fill="#EFF9DD"/>
<rect x="563.20" y="28.27" width="14.30" height="9.39" fill="#FED68A"/>
<rect x="577.20" y="28.27" width="14.30" height="9.39" fill="#F0F9DA"/>
<rect x="591.20" y="28.27" width="14.30" height="9.39" fill="#E6563C"/>
<rect x="605.20" y="28.27" width="14.00" height="9.39" fill="#91BFDB"/>
<rect x="535.20" y="37.36" width="14.30" height="9.39" fill="#EDF8E1"/>
<rect x="549.20" y="37.36" width="14.30" height="9.39" fill="#EBF7E4"/>
<rect x="563.20" y="37.36" width="14.30" height="9.39" fill="#D2EAF3"/>
<rect x="577.20" y="37.36" width="14.30" height="9.39" fill="#FFF6B1"/>
<rect x="591.20" y="37.36" width="14.30" height="9.39" fill="#D73027"/>
<rect x="605.20" y="37.36" width="14.00" height="9.39" fill="#EFF9DD"/>
<rect x="535.20" y="46.45" width="14.30" height="9.39" fill="#FED68A"/>
<rect x="549.20" y="46.45" width="14.30" height="9.39" fill="#FEEDA3"/>
<rect x="563.20" y="46.45" width="14.30" height="9.39" fill="#ED6744"/>
<rect x="577.20" y="46.45" width="14.30" height="9.39" fill="#F0F9DA"/>
<rect x="591.20" y="46.45" width="14.30" height="9.39" fill="#CDE7F1"/>
<rect x="605.20" y="46.45" width="14.00" height="9.39" fill="#9AC5DE"/>
<rect x="535.20" y="55.54" width="14.30" height="9.39" fill="#FCA166"/>
<rect x="549.20" y="55.54" width="14.30" height="9.39" fill="#FEE598"/>
<rect x="563.20" y="55.54" width="14.30" height="9.39" fill="#FEE293"/>
<rect x="577.20" y="55.54" width="14.30" height="9.39" fill="#FFFBB9"/>
<rect x="591.20" y="55.54" width="14.30" height="9.39" fill="#7FAED2"/>
<rect x="605.20" y="55.54" width="14.00" height="9.39" fill="#D2EAF3"/>
<rect x="535.20" y="64.63" width="14.30" height="9.39" fill="#FDAF70"/>
<rect x="549.20" y="64.63" width="14.30" height="9.39" fill="#FEEBA1"/>
<rect x="563.20" y="64.63" width="14.30" height="9.39" fill="#FDC37D"/>
<rect x="577.20" y="64.63" width="14.30" height="9.39" fill="#E2F4F5"/>
<rect x="591.20" y="64.63" width="14.30" height="9.39" fill="#6998C6"/>
<rect x="605.20" y="64.63" width="14.00" height="9.39" fill="#FFF4AE"/>
<rect x="535.20" y="73.72" width="14.30" height="9.39" fill="#FED186"/>
<rect x="549.20" y="73.72" width="14.30" height="9.39" fill="#FEE293"/>
<rect x="563.20" y="73.72" width="14.30" height="9.39" fill="#FFFDBC"/>
<rect x="577.20" y="73.72" width="14.30" height="9.39" fill="#FDA569"/>
<rect x="591.20" y="73.72" width="14.30" height="9.39" fill="#9AC5DE"/>
<rect x="605.20" y="73.72" width="14.00" height="9.39" fill="#A4CBE2"/>
<rect x="535.20" y="82.81" width="14.30" height="9.39" fill="#ED6744"/>
<rect x="549.20" y="82.81" width="14.30" height="9.39" fill="#FED68A"/>
<rect x="563.20" y="82.81" width="14.30" height="9.39" fill="#FFFAB7"/>
<rect x="577.20" y="82.81" width="14.30" height="9.39" fill="#F4FBD3"/>
<rect x="591.20" y="82.81" width="14.30" height="9.39" fill="#BBDBEA"/>
<rect x="605.20" y="82.81" width="14.00" height="9.39" fill="#A8CEE4"/>
<rect x="535.20" y="91.89" width="14.30" height="9.39" fill="#FA8856"/>
<rect x="549.20" y="91.89" width="14.30" height="9.39" fill="#FDBE79"/>
<rect x="563.20" y="91.89" width="14.30" height="9.39" fill="#F6FBD0"/>
<rect x="577.20" y="91.89" width="14.30" height="9.39" fill="#FFFDBC"/>
<rect x="591.20" y="91.89" width="14.30" height="9.39" fill="#BBDBEA"/>
<rect x="605.20" y="91.89" width="14.00" height="9.39" fill="#ADD1E5"/>
<rect x="535.20" y="100.98" width="14.30" height="9.39" fill="#FA8856"/>
<rect x="549.20" y="100.98" width="14.30" height="9.39" fill="#FDC880"/>
<rect x="563.20" y="100.98" width="14.30" height="9.39" fill="#F4FBD3"/>
<rect x="577.20" y="100.98" width="14.30" height="9.39" fill="#FFFBB9"/>
<rect x="591.20" y="100.98" width="14.30" height="9.39" fill="#D7EDF5"/>
<rect x="605.20" y="100.98" width="14.00" height="9.39" fill="#91BFDB"/>
<rect x="535.20" y="110.07" width="14.30" height="9.39" fill="#DE4030"/>
<rect x="549.20" y="110.07" width="14.30" height="9.39" fill="#FFF4AE"/>
<rect x="563.20" y="110.07" width="14.30" height="9.39" fill="#EBF7E4"/>
<rect x="577.20" y="110.07" width="14.30" height="9.39" fill="#FFFBB9"/>
<rect x="591.20" y="110.07" width="14.30" height="9.39" fill="#EDF8E1"/>
<rect x="605.20" y="110.07" width="14.00" height="9.39" fill="#9AC5DE"/>
<rect x="535.20" y="119.16" width="14.30" height="9.39" fill="#E24B36"/>
<rect x="549.20" y="119.16" width="14.30" height="9.39" fill="#FEEFA6"/>
<rect x="563.20" y="119.16" width="14.30" height="9.39" fill="#FFF6B1"/>
<rect x="577.20" y="119.16" width="14.30" height="9.39" fill="#FDFEC2"/>
<rect x="591.20" y="119.16" width="14.30" height="9.39" fill="#D7EDF5"/>
<rect x="605.20" y="119.16" width="14.00" height="9.39" fill="#9AC5DE"/>
<rect x="535.20" y="128.25" width="14.30" height="9.39" fill="#E45139"/>
<rect x="549.20" y="128.25" width="14.30" height="9.39" fill="#FEE293"/>
<rect x="563.20" y="128.25" width="14.30" height="9.39" fill="#F6FBD0"/>
<rect x="577.20" y="128.25" width="14.30" height="9.39" fill="#F0F9DA"/>
<rect x="591.20" y="128.25" width="14.30" height="9.39" fill="#E0F3F8"/>
<rect x="605.20" y="128.25" width="14.00" height="9.39" fill="#96C2DD"/>
<rect x="535.20" y="137.34" width="14.30" height="9.39" fill="#FEE79B"/>
<rect x="549.20" y="137.34" width="14.30" height="9.39" fill="#F3774D"/>
<rect x="563.20" y="137.34" width="14.30" height="9.39" fill="#F6FBD0"/>
<rect x="577.20" y="137.34" width="14.30" height="9.39" fill="#FFF4AE"/>
<rect x="591.20" y="137.34" width="14.30" height="9.39" fill="#E0F3F8"/>
<rect x="605.20" y="137.34" width="14.00" height="9.39" fill="#7BA9D0"/>
<rect x="535.20" y="146.43" width="14.30" height="9.39" fill="#FC975F"/>
<rect x="549.20" y="146.43" width="14.30" height="9.39" fill="#FED68A"/>
<rect x="563.20" y="146.43" width="14.30" height="9.39" fill="#C9E4EF"/>
<rect x="577.20" y="146.43" width="14.30" height="9.39" fill="#FFF2AC"/>
<rect x="591.20" y="146.43" width="14.30" height="9.39" fill="#FFF0A9"/>
<rect x="605.20" y="146.43" width="14.00" height="9.39" fill="#7FAED2"/>
<rect x="535.20" y="155.52" width="14.30" height="9.39" fill="#F3774D"/>
<rect x="549.20" y="155.52" width="14.30" height="9.39" fill="#FED68A"/>
<rect x="563.20" y="155.52" width="14.30" height="9.39" fill="#E9F7E7"/>
<rect x="577.20" y="155.52" width="14.30" height="9.39" fill="#FFFAB7"/>
<rect x="591.20" y="155.52" width="14.30" height="9.39" fill="#F0F9DA"/>
<rect x="605.20" y="155.52" width="14.00" height="9.39" fill="#84B2D4"/>
<rect x="535.20" y="164.61" width="14.30" height="9.09" fill="#F88253"/>
<rect x="549.20" y="164.61" width="14.30" height="9.09" fill="#FEE090"/>
<rect x="563.20" y="164.61" width="14.30" height="9.09" fill="#EFF9DD"/>
<rect x="577.20" y="164.61" width="14.30" height="9.09" fill="#FFFAB7"/>
<rect x="591.20" y="164.61" width="14.30" height="9.09" fill="#EFF9DD"/>
<rect x="605.20" y="164.61" width="14.00" height="9.09" fill="#76A5CD"/>
</g>
<text x="621.80" y="8.95" font-size="11.2">Sele</text>
<text x="621.80" y="18.04" font-size="11.2">Selp</text>
<text x="621.80" y="27.13" font-size="11.2">Vegfa</text>
<text x="621.80" y="36.22" font-size="11.2">Bcl2</text>
<text x="621.80" y="45.31" font-size="11.2">Vegfc</text>
<text x="621.80" y="54.40" font-size="11.2">Xiap</text>
<text x="621.80" y="63.49" font-size="11.2">Vcam1</text>
<text x="621.80" y="72.58" font-size="11.2">Vegfb</text>
<text x="621.80" y="81.67" font-size="11.2">Bcl2l1</text>
<text x="621.80" y="90.76" font-size="11.2">Tnf</text>
<text x="621.80" y="99.85" font-size="11.2">Ccl2</text>
<text x="621.80" y="108.94" font-size="11.2">Cxcl2</text>
<text x="621.80" y="118.03" font-size="11.2">Il6</text>
<text x="621.80" y="127.12" font-size="11.2">Icam1</text>
<text x="621.80" y="136.21" font-size="11.2">Cflar</text>
<text x="621.80" y="145.29" font-size="11.2">Birc2</text>
<text x="621.80" y="154.38" font-size="11.2">Il1b</text>
<text x="621.80" y="163.47" font-size="11.2">Birc3</text>
<text x="621.80" y="172.56" font-size="11.2">Ccl4</text>
<text x="540.60" y="186.46" font-size="11.3" text-anchor="middle">1</text>
<text x="556.00" y="186.46" font-size="11.3" text-anchor="middle">2</text>
<text x="569.80" y="186.46" font-size="11.3" text-anchor="middle">6</text>
<text x="583.20" y="186.46" font-size="11.3" text-anchor="middle">4</text>
<text x="599.00" y="186.46" font-size="11.3" text-anchor="middle">5</text>
<text x="613.00" y="186.46" font-size="11.3" text-anchor="middle">3</text>
<defs><linearGradient id="gh" x1="0" y1="0" x2="0" y2="1"><stop offset="0.0000" stop-color="#D73027"/><stop offset="0.1667" stop-color="#FC8D59"/><stop offset="0.3333" stop-color="#FEE090"/><stop offset="0.5000" stop-color="#FFFFBF"/><stop offset="0.6667" stop-color="#E0F3F8"/><stop offset="0.8333" stop-color="#91BFDB"/><stop offset="1.0000" stop-color="#4575B4"/></linearGradient></defs>
<rect x="668.10" y="46.10" width="7.20" height="114.50" fill="url(#gh)"/>
<text x="692.40" y="62.47" font-size="11.3" text-anchor="end">2</text>
<text x="692.40" y="84.67" font-size="11.3" text-anchor="end">1</text>
<text x="692.40" y="107.47" font-size="11.3" text-anchor="end">0</text>
<text x="692.40" y="129.67" font-size="11.3" text-anchor="end">-1</text>
<text x="692.40" y="152.27" font-size="11.3" text-anchor="end">-2</text>
<text x="683.30" y="24.90" font-size="11.3" text-anchor="middle">-Log<tspan font-size="7.0" dy="2">10</tspan></text>
<text x="683.30" y="37.80" font-size="11.3" text-anchor="middle">(<tspan font-style="italic">p-value</tspan>)</text>
<text x="526.00" y="84.00" font-size="11.3" text-anchor="middle" transform="rotate(-90 526.00 84.00)">Gene cluster</text>
<path d="M521.40 130.20 V198.30 H533.70" fill="none" stroke="#000" stroke-width="1.5"/>
<path d="M521.40 125.20 l-4.2 8.2 h8.4 z" fill="#000"/>
<path d="M538.70 198.30 l-8.2 -4.2 v8.4 z" fill="#000"/>
<text x="541.70" y="201.00" font-size="11.3">Single cell sub-cluster</text>
<g>
<rect x="43.60" y="219.20" width="76.50" height="203.80" fill="#FFFFFF"/>
<rect x="44.05" y="219.65" width="11.85" height="8.36" fill="#FF4C4C"/>
<rect x="56.80" y="219.65" width="11.85" height="8.36" fill="#9E9EFF"/>
<rect x="69.55" y="219.65" width="11.85" height="8.36" fill="#3D3DFF"/>
<rect x="82.30" y="219.65" width="11.85" height="8.36" fill="#DBDBFF"/>
<rect x="95.05" y="219.65" width="11.85" height="8.36" fill="#FF9999"/>
<rect x="107.80" y="219.65" width="11.85" height="8.36" fill="#4949FF"/>
<rect x="44.05" y="228.91" width="11.85" height="8.36" fill="#7A7AFF"/>
<rect x="56.80" y="228.91" width="11.85" height="8.36" fill="#FF9999"/>
<rect x="69.55" y="228.91" width="11.85" height="8.36" fill="#5555FF"/>
<rect x="82.30" y="228.91" width="11.85" height="8.36" fill="#FFBFBF"/>
<rect x="95.05" y="228.91" width="11.85" height="8.36" fill="#FF7373"/>
<rect x="107.80" y="228.91" width="11.85" height="8.36" fill="#3131FF"/>
<rect x="44.05" y="238.18" width="11.85" height="8.36" fill="#9E9EFF"/>
<rect x="56.80" y="238.18" width="11.85" height="8.36" fill="#9292FF"/>
<rect x="69.55" y="238.18" width="11.85" height="8.36" fill="#9292FF"/>
<rect x="82.30" y="238.18" width="11.85" height="8.36" fill="#9E9EFF"/>
<rect x="95.05" y="238.18" width="11.85" height="8.36" fill="#FF0000"/>
<rect x="107.80" y="238.18" width="11.85" height="8.36" fill="#9E9EFF"/>
<rect x="44.05" y="247.44" width="11.85" height="8.36" fill="#9E9EFF"/>
<rect x="56.80" y="247.44" width="11.85" height="8.36" fill="#8686FF"/>
<rect x="69.55" y="247.44" width="11.85" height="8.36" fill="#B6B6FF"/>
<rect x="82.30" y="247.44" width="11.85" height="8.36" fill="#8686FF"/>
<rect x="95.05" y="247.44" width="11.85" height="8.36" fill="#FF0000"/>
<rect x="107.80" y="247.44" width="11.85" height="8.36" fill="#AAAAFF"/>
<rect x="44.05" y="256.70" width="11.85" height="8.36" fill="#FF6666"/>
<rect x="56.80" y="256.70" width="11.85" height="8.36" fill="#FF8C8C"/>
<rect x="69.55" y="256.70" width="11.85" height="8.36" fill="#E7E7FF"/>
<rect x="82.30" y="256.70" width="11.85" height="8.36" fill="#B6B6FF"/>
<rect x="95.05" y="256.70" width="11.85" height="8.36" fill="#6E6EFF"/>
<rect x="107.80" y="256.70" width="11.85" height="8.36" fill="#1919FF"/>
<rect x="44.05" y="265.97" width="11.85" height="8.36" fill="#FF7373"/>
<rect x="56.80" y="265.97" width="11.85" height="8.36" fill="#FF8C8C"/>
<rect x="69.55" y="265.97" width="11.85" height="8.36" fill="#C2C2FF"/>
<rect x="82.30" y="265.97" width="11.85" height="8.36" fill="#E7E7FF"/>
<rect x="95.05" y="265.97" width="11.85" height="8.36" fill="#8686FF"/>
<rect x="107.80" y="265.97" width="11.85" height="8.36" fill="#1919FF"/>
<rect x="44.05" y="275.23" width="11.85" height="8.36" fill="#FF4040"/>
<rect x="56.80" y="275.23" width="11.85" height="8.36" fill="#FFBFBF"/>
<rect x="69.55" y="275.23" width="11.85" height="8.36" fill="#E7E7FF"/>
<rect x="82.30" y="275.23" width="11.85" height="8.36" fill="#CFCFFF"/>
<rect x="95.05" y="275.23" width="11.85" height="8.36" fill="#4949FF"/>
<rect x="107.80" y="275.23" width="11.85" height="8.36" fill="#2525FF"/>
<rect x="44.05" y="284.50" width="11.85" height="8.36" fill="#FF3333"/>
<rect x="56.80" y="284.50" width="11.85" height="8.36" fill="#FFB2B2"/>
<rect x="69.55" y="284.50" width="11.85" height="8.36" fill="#C2C2FF"/>
<rect x="82.30" y="284.50" width="11.85" height="8.36" fill="#CFCFFF"/>
<rect x="95.05" y="284.50" width="11.85" height="8.36" fill="#7A7AFF"/>
<rect x="107.80" y="284.50" width="11.85" height="8.36" fill="#1919FF"/>
<rect x="44.05" y="293.76" width="11.85" height="8.36" fill="#FF3333"/>
<rect x="56.80" y="293.76" width="11.85" height="8.36" fill="#FFB2B2"/>
<rect x="69.55" y="293.76" width="11.85" height="8.36" fill="#CFCFFF"/>
<rect x="82.30" y="293.76" width="11.85" height="8.36" fill="#AAAAFF"/>
<rect x="95.05" y="293.76" width="11.85" height="8.36" fill="#7A7AFF"/>
<rect x="107.80" y="293.76" width="11.85" height="8.36" fill="#2525FF"/>
<rect x="44.05" y="303.02" width="11.85" height="8.36" fill="#FF2626"/>
<rect x="56.80" y="303.02" width="11.85" height="8.36" fill="#FFA6A6"/>
<rect x="69.55" y="303.02" width="11.85" height="8.36" fill="#CFCFFF"/>
<rect x="82.30" y="303.02" width="11.85" height="8.36" fill="#DBDBFF"/>
<rect x="95.05" y="303.02" width="11.85" height="8.36" fill="#8686FF"/>
<rect x="107.80" y="303.02" width="11.85" height="8.36" fill="#1919FF"/>
<rect x="44.05" y="312.29" width="11.85" height="8.36" fill="#FF0D0D"/>
<rect x="56.80" y="312.29" width="11.85" height="8.36" fill="#F9F9FF"/>
<rect x="69.55" y="312.29" width="11.85" height="8.36" fill="#9E9EFF"/>
<rect x="82.30" y="312.29" width="11.85" height="8.36" fill="#C2C2FF"/>
<rect x="95.05" y="312.29" width="11.85" height="8.36" fill="#AAAAFF"/>
<rect x="107.80" y="312.29" width="11.85" height="8.36" fill="#3D3DFF"/>
<rect x="44.05" y="321.55" width="11.85" height="8.36" fill="#FF4040"/>
<rect x="56.80" y="321.55" width="11.85" height="8.36" fill="#FFBFBF"/>
<rect x="69.55" y="321.55" width="11.85" height="8.36" fill="#8686FF"/>
<rect x="82.30" y="321.55" width="11.85" height="8.36" fill="#CFCFFF"/>
<rect x="95.05" y="321.55" width="11.85" height="8.36" fill="#DBDBFF"/>
<rect x="107.80" y="321.55" width="11.85" height="8.36" fill="#1919FF"/>
<rect x="44.05" y="330.81" width="11.85" height="8.36" fill="#FF4040"/>
<rect x="56.80" y="330.81" width="11.85" height="8.36" fill="#9E9EFF"/>
<rect x="69.55" y="330.81" width="11.85" height="8.36" fill="#FFA6A6"/>
<rect x="82.30" y="330.81" width="11.85" height="8.36" fill="#B6B6FF"/>
<rect x="95.05" y="330.81" width="11.85" height="8.36" fill="#5555FF"/>
<rect x="107.80" y="330.81" width="11.85" height="8.36" fill="#4949FF"/>
<rect x="44.05" y="340.08" width="11.85" height="8.36" fill="#FF3333"/>
<rect x="56.80" y="340.08" width="11.85" height="8.36" fill="#DBDBFF"/>
<rect x="69.55" y="340.08" width="11.85" height="8.36" fill="#FFE5E5"/>
<rect x="82.30" y="340.08" width="11.85" height="8.36" fill="#DBDBFF"/>
<rect x="95.05" y="340.08" width="11.85" height="8.36" fill="#2525FF"/>
<rect x="107.80" y="340.08" width="11.85" height="8.36" fill="#5555FF"/>
<rect x="44.05" y="349.34" width="11.85" height="8.36" fill="#FF3333"/>
<rect x="56.80" y="349.34" width="11.85" height="8.36" fill="#9E9EFF"/>
<rect x="69.55" y="349.34" width="11.85" height="8.36" fill="#FFBFBF"/>
<rect x="82.30" y="349.34" width="11.85" height="8.36" fill="#3D3DFF"/>
<rect x="95.05" y="349.34" width="11.85" height="8.36" fill="#9292FF"/>
<rect x="107.80" y="349.34" width="11.85" height="8.36" fill="#9292FF"/>
<rect x="44.05" y="358.60" width="11.85" height="8.36" fill="#FF0000"/>
<rect x="56.80" y="358.60" width="11.85" height="8.36" fill="#CFCFFF"/>
<rect x="69.55" y="358.60" width="11.85" height="8.36" fill="#B6B6FF"/>
<rect x="82.30" y="358.60" width="11.85" height="8.36" fill="#9292FF"/>
<rect x="95.05" y="358.60" width="11.85" height="8.36" fill="#9E9EFF"/>
<rect x="107.80" y="358.60" width="11.85" height="8.36" fill="#6262FF"/>
<rect x="44.05" y="367.87" width="11.85" height="8.36" fill="#FF0000"/>
<rect x="56.80" y="367.87" width="11.85" height="8.36" fill="#9E9EFF"/>
<rect x="69.55" y="367.87" width="11.85" height="8.36" fill="#9E9EFF"/>
<rect x="82.30" y="367.87" width="11.85" height="8.36" fill="#9E9EFF"/>
<rect x="95.05" y="367.87" width="11.85" height="8.36" fill="#9E9EFF"/>
<rect x="107.80" y="367.87" width="11.85" height="8.36" fill="#9292FF"/>
<rect x="44.05" y="377.13" width="11.85" height="8.36" fill="#9E9EFF"/>
<rect x="56.80" y="377.13" width="11.85" height="8.36" fill="#9292FF"/>
<rect x="69.55" y="377.13" width="11.85" height="8.36" fill="#FF0000"/>
<rect x="82.30" y="377.13" width="11.85" height="8.36" fill="#9E9EFF"/>
<rect x="95.05" y="377.13" width="11.85" height="8.36" fill="#9E9EFF"/>
<rect x="107.80" y="377.13" width="11.85" height="8.36" fill="#9E9EFF"/>
<rect x="44.05" y="386.40" width="11.85" height="8.36" fill="#FFECEC"/>
<rect x="56.80" y="386.40" width="11.85" height="8.36" fill="#CFCFFF"/>
<rect x="69.55" y="386.40" width="11.85" height="8.36" fill="#FFE5E5"/>
<rect x="82.30" y="386.40" width="11.85" height="8.36" fill="#FF4C4C"/>
<rect x="95.05" y="386.40" width="11.85" height="8.36" fill="#3D3DFF"/>
<rect x="107.80" y="386.40" width="11.85" height="8.36" fill="#2525FF"/>
<rect x="44.05" y="395.66" width="11.85" height="8.36" fill="#FF7373"/>
<rect x="56.80" y="395.66" width="11.85" height="8.36" fill="#FFBFBF"/>
<rect x="69.55" y="395.66" width="11.85" height="8.36" fill="#FFBFBF"/>
<rect x="82.30" y="395.66" width="11.85" height="8.36" fill="#AAAAFF"/>
<rect x="95.05" y="395.66" width="11.85" height="8.36" fill="#3131FF"/>
<rect x="107.80" y="395.66" width="11.85" height="8.36" fill="#3131FF"/>
<rect x="44.05" y="404.92" width="11.85" height="8.36" fill="#F9F9FF"/>
<rect x="56.80" y="404.92" width="11.85" height="8.36" fill="#FFB2B2"/>
<rect x="69.55" y="404.92" width="11.85" height="8.36" fill="#FF4C4C"/>
<rect x="82.30" y="404.92" width="11.85" height="8.36" fill="#C2C2FF"/>
<rect x="95.05" y="404.92" width="11.85" height="8.36" fill="#2525FF"/>
<rect x="107.80" y="404.92" width="11.85" height="8.36" fill="#4949FF"/>
<rect x="44.05" y="414.19" width="11.85" height="8.36" fill="#FFE5E5"/>
<rect x="56.80" y="414.19" width="11.85" height="8.36" fill="#FFCCCC"/>
<rect x="69.55" y="414.19" width="11.85" height="8.36" fill="#FF4040"/>
<rect x="82.30" y="414.19" width="11.85" height="8.36" fill="#AAAAFF"/>
<rect x="95.05" y="414.19" width="11.85" height="8.36" fill="#3D3DFF"/>
<rect x="107.80" y="414.19" width="11.85" height="8.36" fill="#4949FF"/>
</g>
<text x="121.80" y="227.64" font-size="11.2">Socs3</text>
<text x="121.80" y="236.90" font-size="11.2">Ccr7</text>
<text x="121.80" y="246.17" font-size="11.2">Nos2</text>
<text x="121.80" y="255.43" font-size="11.2">Gpr18</text>
<text x="121.80" y="264.69" font-size="11.2">Irf1</text>
<text x="121.80" y="273.96" font-size="11.2">Azin1</text>
<text x="121.80" y="283.22" font-size="11.2">Tnf</text>
<text x="121.80" y="292.49" font-size="11.2">Nfkbiz</text>
<text x="121.80" y="301.75" font-size="11.2">Cxcl10</text>
<text x="121.80" y="311.01" font-size="11.2">MHCII</text>
<text x="121.80" y="320.28" font-size="11.2">Il6</text>
<text x="121.80" y="329.54" font-size="11.2">Il1b</text>
<text x="121.80" y="338.80" font-size="11.2">Cd86</text>
<text x="121.80" y="348.07" font-size="11.2">Irf5</text>
<text x="121.80" y="357.33" font-size="11.2">Fpr2</text>
<text x="121.80" y="366.59" font-size="11.2">Il1a</text>
<text x="121.80" y="375.86" font-size="11.2">Il12b</text>
<text x="121.80" y="385.12" font-size="11.2">Il12a</text>
<text x="121.80" y="394.39" font-size="11.2">Cd80</text>
<text x="121.80" y="403.65" font-size="11.2">Cd38</text>
<text x="121.80" y="412.91" font-size="11.2">Il23a</text>
<text x="121.80" y="422.18" font-size="11.2">Tlr4</text>
<text x="51.30" y="432.76" font-size="11.3" text-anchor="middle">1</text>
<text x="62.80" y="432.76" font-size="11.3" text-anchor="middle">2</text>
<text x="76.00" y="432.76" font-size="11.3" text-anchor="middle">6</text>
<text x="88.20" y="432.76" font-size="11.3" text-anchor="middle">4</text>
<text x="100.80" y="432.76" font-size="11.3" text-anchor="middle">5</text>
<text x="113.40" y="432.76" font-size="11.3" text-anchor="middle">3</text>
<defs><linearGradient id="gi" x1="0" y1="0" x2="0" y2="1"><stop offset="0.0000" stop-color="#FF0000"/><stop offset="0.5000" stop-color="#FFFFFF"/><stop offset="1.0000" stop-color="#0000FF"/></linearGradient></defs>
<rect x="168.10" y="276.60" width="7.10" height="100.30" fill="url(#gi)"/>
<text x="193.00" y="287.17" font-size="11.3" text-anchor="end">2</text>
<text x="193.00" y="309.07" font-size="11.3" text-anchor="end">1</text>
<text x="193.00" y="332.07" font-size="11.3" text-anchor="end">0</text>
<text x="193.00" y="354.47" font-size="11.3" text-anchor="end">-1</text>
<text x="193.00" y="376.87" font-size="11.3" text-anchor="end">-2</text>
<text x="183.40" y="253.20" font-size="11.3" text-anchor="middle">-Log<tspan font-size="7.0" dy="2">10</tspan></text>
<text x="183.40" y="266.10" font-size="11.3" text-anchor="middle">(<tspan font-style="italic">p-value</tspan>)</text>
<text x="34.50" y="323.00" font-size="11.3" text-anchor="middle" transform="rotate(-90 34.50 323.00)">Gene cluster</text>
<path d="M27.90 395.00 V441.20 H39.50" fill="none" stroke="#000" stroke-width="1.5"/>
<path d="M27.90 390.00 l-4.2 8.2 h8.4 z" fill="#000"/>
<path d="M44.50 441.20 l-8.2 -4.2 v8.4 z" fill="#000"/>
<text x="49.00" y="445.70" font-size="11.3">Single cell sub-cluster</text>
<rect x="289.00" y="270.00" width="45.00" height="13.90" fill="#FF4081"/>
<text x="219.00" y="280.14" font-size="11.3">sc-1</text>
<rect x="289.00" y="289.40" width="13.00" height="14.50" fill="#FF4081"/>
<text x="219.00" y="299.84" font-size="11.3">sc-2</text>
<rect x="284.40" y="309.30" width="4.60" height="14.40" fill="#92D050"/>
<text x="219.00" y="319.69" font-size="11.3">sc-6</text>
<rect x="280.00" y="329.00" width="9.00" height="14.50" fill="#92D050"/>
<text x="219.00" y="339.44" font-size="11.3">sc-4</text>
<rect x="269.90" y="348.60" width="19.10" height="14.40" fill="#92D050"/>
<text x="219.00" y="358.99" font-size="11.3">sc-5</text>
<rect x="245.70" y="368.40" width="43.30" height="14.50" fill="#92D050"/>
<text x="219.00" y="378.84" font-size="11.3">sc-3</text>
<text x="243.70" y="265.47" font-size="11.3" text-anchor="middle">-0.3</text>
<text x="288.40" y="265.47" font-size="11.3" text-anchor="middle">0</text>
<text x="331.40" y="265.47" font-size="11.3" text-anchor="middle">0.3</text>
<text x="287.80" y="401.80" font-size="11.3" text-anchor="middle">Pro-inflammatory score</text>
<g>
<rect x="387.60" y="219.60" width="80.20" height="223.70" fill="#FFFFFF"/>
<rect x="388.05" y="220.05" width="12.47" height="8.05" fill="#FF5959"/>
<rect x="401.42" y="220.05" width="12.47" height="8.05" fill="#F3F3FF"/>
<rect x="414.78" y="220.05" width="12.47" height="8.05" fill="#FF8080"/>
<rect x="428.15" y="220.05" width="12.47" height="8.05" fill="#4949FF"/>
<rect x="441.52" y="220.05" width="12.47" height="8.05" fill="#1919FF"/>
<rect x="454.88" y="220.05" width="12.47" height="8.05" fill="#E7E7FF"/>
<rect x="388.05" y="229.00" width="12.47" height="8.05" fill="#FF4040"/>
<rect x="401.42" y="229.00" width="12.47" height="8.05" fill="#6262FF"/>
<rect x="414.78" y="229.00" width="12.47" height="8.05" fill="#FF7373"/>
<rect x="428.15" y="229.00" width="12.47" height="8.05" fill="#3131FF"/>
<rect x="441.52" y="229.00" width="12.47" height="8.05" fill="#C2C2FF"/>
<rect x="454.88" y="229.00" width="12.47" height="8.05" fill="#CFCFFF"/>
<rect x="388.05" y="237.95" width="12.47" height="8.05" fill="#FF8080"/>
<rect x="401.42" y="237.95" width="12.47" height="8.05" fill="#FFBFBF"/>
<rect x="414.78" y="237.95" width="12.47" height="8.05" fill="#FF8C8C"/>
<rect x="428.15" y="237.95" width="12.47" height="8.05" fill="#CFCFFF"/>
<rect x="441.52" y="237.95" width="12.47" height="8.05" fill="#3D3DFF"/>
<rect x="454.88" y="237.95" width="12.47" height="8.05" fill="#3131FF"/>
<rect x="388.05" y="246.89" width="12.47" height="8.05" fill="#FF5959"/>
<rect x="401.42" y="246.89" width="12.47" height="8.05" fill="#F9F9FF"/>
<rect x="414.78" y="246.89" width="12.47" height="8.05" fill="#FF8080"/>
<rect x="428.15" y="246.89" width="12.47" height="8.05" fill="#B6B6FF"/>
<rect x="441.52" y="246.89" width="12.47" height="8.05" fill="#8686FF"/>
<rect x="454.88" y="246.89" width="12.47" height="8.05" fill="#1919FF"/>
<rect x="388.05" y="255.84" width="12.47" height="8.05" fill="#FF3333"/>
<rect x="401.42" y="255.84" width="12.47" height="8.05" fill="#B6B6FF"/>
<rect x="414.78" y="255.84" width="12.47" height="8.05" fill="#FFBFBF"/>
<rect x="428.15" y="255.84" width="12.47" height="8.05" fill="#9E9EFF"/>
<rect x="441.52" y="255.84" width="12.47" height="8.05" fill="#F3F3FF"/>
<rect x="454.88" y="255.84" width="12.47" height="8.05" fill="#1919FF"/>
<rect x="388.05" y="264.79" width="12.47" height="8.05" fill="#FF1A1A"/>
<rect x="401.42" y="264.79" width="12.47" height="8.05" fill="#B6B6FF"/>
<rect x="414.78" y="264.79" width="12.47" height="8.05" fill="#FFCCCC"/>
<rect x="428.15" y="264.79" width="12.47" height="8.05" fill="#DBDBFF"/>
<rect x="441.52" y="264.79" width="12.47" height="8.05" fill="#9292FF"/>
<rect x="454.88" y="264.79" width="12.47" height="8.05" fill="#1919FF"/>
<rect x="388.05" y="273.74" width="12.47" height="8.05" fill="#FF8C8C"/>
<rect x="401.42" y="273.74" width="12.47" height="8.05" fill="#FFA6A6"/>
<rect x="414.78" y="273.74" width="12.47" height="8.05" fill="#8686FF"/>
<rect x="428.15" y="273.74" width="12.47" height="8.05" fill="#5555FF"/>
<rect x="441.52" y="273.74" width="12.47" height="8.05" fill="#FF7373"/>
<rect x="454.88" y="273.74" width="12.47" height="8.05" fill="#3D3DFF"/>
<rect x="388.05" y="282.69" width="12.47" height="8.05" fill="#FF9999"/>
<rect x="401.42" y="282.69" width="12.47" height="8.05" fill="#E7E7FF"/>
<rect x="414.78" y="282.69" width="12.47" height="8.05" fill="#FF8C8C"/>
<rect x="428.15" y="282.69" width="12.47" height="8.05" fill="#2525FF"/>
<rect x="441.52" y="282.69" width="12.47" height="8.05" fill="#FFB2B2"/>
<rect x="454.88" y="282.69" width="12.47" height="8.05" fill="#3131FF"/>
<rect x="388.05" y="291.63" width="12.47" height="8.05" fill="#FF8C8C"/>
<rect x="401.42" y="291.63" width="12.47" height="8.05" fill="#F3F3FF"/>
<rect x="414.78" y="291.63" width="12.47" height="8.05" fill="#FF8080"/>
<rect x="428.15" y="291.63" width="12.47" height="8.05" fill="#4949FF"/>
<rect x="441.52" y="291.63" width="12.47" height="8.05" fill="#FFE5E5"/>
<rect x="454.88" y="291.63" width="12.47" height="8.05" fill="#1919FF"/>
<rect x="388.05" y="300.58" width="12.47" height="8.05" fill="#FF6666"/>
<rect x="401.42" y="300.58" width="12.47" height="8.05" fill="#C2C2FF"/>
<rect x="414.78" y="300.58" width="12.47" height="8.05" fill="#8686FF"/>
<rect x="428.15" y="300.58" width="12.47" height="8.05" fill="#FF9999"/>
<rect x="441.52" y="300.58" width="12.47" height="8.05" fill="#FFECEC"/>
<rect x="454.88" y="300.58" width="12.47" height="8.05" fill="#1919FF"/>
<rect x="388.05" y="309.53" width="12.47" height="8.05" fill="#FFBFBF"/>
<rect x="401.42" y="309.53" width="12.47" height="8.05" fill="#FFCCCC"/>
<rect x="414.78" y="309.53" width="12.47" height="8.05" fill="#FF4C4C"/>
<rect x="428.15" y="309.53" width="12.47" height="8.05" fill="#FFECEC"/>
<rect x="441.52" y="309.53" width="12.47" height="8.05" fill="#6262FF"/>
<rect x="454.88" y="309.53" width="12.47" height="8.05" fill="#5555FF"/>
<rect x="388.05" y="318.48" width="12.47" height="8.05" fill="#FF2626"/>
<rect x="401.42" y="318.48" width="12.47" height="8.05" fill="#FFB2B2"/>
<rect x="414.78" y="318.48" width="12.47" height="8.05" fill="#CFCFFF"/>
<rect x="428.15" y="318.48" width="12.47" height="8.05" fill="#C2C2FF"/>
<rect x="441.52" y="318.48" width="12.47" height="8.05" fill="#5555FF"/>
<rect x="454.88" y="318.48" width="12.47" height="8.05" fill="#3131FF"/>
<rect x="388.05" y="327.43" width="12.47" height="8.05" fill="#FF2626"/>
<rect x="401.42" y="327.43" width="12.47" height="8.05" fill="#FFB2B2"/>
<rect x="414.78" y="327.43" width="12.47" height="8.05" fill="#CFCFFF"/>
<rect x="428.15" y="327.43" width="12.47" height="8.05" fill="#AAAAFF"/>
<rect x="441.52" y="327.43" width="12.47" height="8.05" fill="#5555FF"/>
<rect x="454.88" y="327.43" width="12.47" height="8.05" fill="#4949FF"/>
<rect x="388.05" y="336.37" width="12.47" height="8.05" fill="#FF1A1A"/>
<rect x="401.42" y="336.37" width="12.47" height="8.05" fill="#FFB2B2"/>
<rect x="414.78" y="336.37" width="12.47" height="8.05" fill="#9E9EFF"/>
<rect x="428.15" y="336.37" width="12.47" height="8.05" fill="#DBDBFF"/>
<rect x="441.52" y="336.37" width="12.47" height="8.05" fill="#5555FF"/>
<rect x="454.88" y="336.37" width="12.47" height="8.05" fill="#5555FF"/>
<rect x="388.05" y="345.32" width="12.47" height="8.05" fill="#FF2626"/>
<rect x="401.42" y="345.32" width="12.47" height="8.05" fill="#FFCCCC"/>
<rect x="414.78" y="345.32" width="12.47" height="8.05" fill="#B6B6FF"/>
<rect x="428.15" y="345.32" width="12.47" height="8.05" fill="#FFF9F9"/>
<rect x="441.52" y="345.32" width="12.47" height="8.05" fill="#6262FF"/>
<rect x="454.88" y="345.32" width="12.47" height="8.05" fill="#3D3DFF"/>
<rect x="388.05" y="354.27" width="12.47" height="8.05" fill="#FF3333"/>
<rect x="401.42" y="354.27" width="12.47" height="8.05" fill="#FFBFBF"/>
<rect x="414.78" y="354.27" width="12.47" height="8.05" fill="#C2C2FF"/>
<rect x="428.15" y="354.27" width="12.47" height="8.05" fill="#E7E7FF"/>
<rect x="441.52" y="354.27" width="12.47" height="8.05" fill="#9E9EFF"/>
<rect x="454.88" y="354.27" width="12.47" height="8.05" fill="#1919FF"/>
<rect x="388.05" y="363.22" width="12.47" height="8.05" fill="#FF3333"/>
<rect x="401.42" y="363.22" width="12.47" height="8.05" fill="#FFBFBF"/>
<rect x="414.78" y="363.22" width="12.47" height="8.05" fill="#6262FF"/>
<rect x="428.15" y="363.22" width="12.47" height="8.05" fill="#F3F3FF"/>
<rect x="441.52" y="363.22" width="12.47" height="8.05" fill="#C2C2FF"/>
<rect x="454.88" y="363.22" width="12.47" height="8.05" fill="#3131FF"/>
<rect x="388.05" y="372.17" width="12.47" height="8.05" fill="#7A7AFF"/>
<rect x="401.42" y="372.17" width="12.47" height="8.05" fill="#9E9EFF"/>
<rect x="414.78" y="372.17" width="12.47" height="8.05" fill="#9E9EFF"/>
<rect x="428.15" y="372.17" width="12.47" height="8.05" fill="#6262FF"/>
<rect x="441.52" y="372.17" width="12.47" height="8.05" fill="#FFA6A6"/>
<rect x="454.88" y="372.17" width="12.47" height="8.05" fill="#FF2626"/>
<rect x="388.05" y="381.11" width="12.47" height="8.05" fill="#B6B6FF"/>
<rect x="401.42" y="381.11" width="12.47" height="8.05" fill="#9292FF"/>
<rect x="414.78" y="381.11" width="12.47" height="8.05" fill="#1919FF"/>
<rect x="428.15" y="381.11" width="12.47" height="8.05" fill="#FF8080"/>
<rect x="441.52" y="381.11" width="12.47" height="8.05" fill="#FF5959"/>
<rect x="454.88" y="381.11" width="12.47" height="8.05" fill="#DBDBFF"/>
<rect x="388.05" y="390.06" width="12.47" height="8.05" fill="#6E6EFF"/>
<rect x="401.42" y="390.06" width="12.47" height="8.05" fill="#E7E7FF"/>
<rect x="414.78" y="390.06" width="12.47" height="8.05" fill="#B6B6FF"/>
<rect x="428.15" y="390.06" width="12.47" height="8.05" fill="#CFCFFF"/>
<rect x="441.52" y="390.06" width="12.47" height="8.05" fill="#FF0000"/>
<rect x="454.88" y="390.06" width="12.47" height="8.05" fill="#6E6EFF"/>
<rect x="388.05" y="399.01" width="12.47" height="8.05" fill="#8686FF"/>
<rect x="401.42" y="399.01" width="12.47" height="8.05" fill="#CFCFFF"/>
<rect x="414.78" y="399.01" width="12.47" height="8.05" fill="#6E6EFF"/>
<rect x="428.15" y="399.01" width="12.47" height="8.05" fill="#FFF9F9"/>
<rect x="441.52" y="399.01" width="12.47" height="8.05" fill="#FF0000"/>
<rect x="454.88" y="399.01" width="12.47" height="8.05" fill="#8686FF"/>
<rect x="388.05" y="407.96" width="12.47" height="8.05" fill="#6262FF"/>
<rect x="401.42" y="407.96" width="12.47" height="8.05" fill="#FF0000"/>
<rect x="414.78" y="407.96" width="12.47" height="8.05" fill="#6262FF"/>
<rect x="428.15" y="407.96" width="12.47" height="8.05" fill="#B6B6FF"/>
<rect x="441.52" y="407.96" width="12.47" height="8.05" fill="#FFD9D9"/>
<rect x="454.88" y="407.96" width="12.47" height="8.05" fill="#9E9EFF"/>
<rect x="388.05" y="416.91" width="12.47" height="8.05" fill="#8686FF"/>
<rect x="401.42" y="416.91" width="12.47" height="8.05" fill="#FF0000"/>
<rect x="414.78" y="416.91" width="12.47" height="8.05" fill="#8686FF"/>
<rect x="428.15" y="416.91" width="12.47" height="8.05" fill="#EDEDFF"/>
<rect x="441.52" y="416.91" width="12.47" height="8.05" fill="#8686FF"/>
<rect x="454.88" y="416.91" width="12.47" height="8.05" fill="#8686FF"/>
<rect x="388.05" y="425.85" width="12.47" height="8.05" fill="#1919FF"/>
<rect x="401.42" y="425.85" width="12.47" height="8.05" fill="#FFA6A6"/>
<rect x="414.78" y="425.85" width="12.47" height="8.05" fill="#FFBFBF"/>
<rect x="428.15" y="425.85" width="12.47" height="8.05" fill="#FFBFBF"/>
<rect x="441.52" y="425.85" width="12.47" height="8.05" fill="#4949FF"/>
<rect x="454.88" y="425.85" width="12.47" height="8.05" fill="#FFBFBF"/>
<rect x="388.05" y="434.80" width="12.47" height="8.05" fill="#8686FF"/>
<rect x="401.42" y="434.80" width="12.47" height="8.05" fill="#FFA6A6"/>
<rect x="414.78" y="434.80" width="12.47" height="8.05" fill="#FF4C4C"/>
<rect x="428.15" y="434.80" width="12.47" height="8.05" fill="#FFCCCC"/>
<rect x="441.52" y="434.80" width="12.47" height="8.05" fill="#4949FF"/>
<rect x="454.88" y="434.80" width="12.47" height="8.05" fill="#4949FF"/>
</g>
<text x="470.00" y="228.38" font-size="11.2">Vegfb</text>
<text x="470.00" y="237.33" font-size="11.2">Tgfb1</text>
<text x="470.00" y="246.28" font-size="11.2">Cd206</text>
<text x="470.00" y="255.23" font-size="11.2">Il4ra</text>
<text x="470.00" y="264.17" font-size="11.2">Mmp19</text>
<text x="470.00" y="273.12" font-size="11.2">Ccl3</text>
<text x="470.00" y="282.07" font-size="11.2">Vegfa</text>
<text x="470.00" y="291.02" font-size="11.2">Ccl22</text>
<text x="470.00" y="299.97" font-size="11.2">Tnfsf12</text>
<text x="470.00" y="308.91" font-size="11.2">Mmp14</text>
<text x="470.00" y="317.86" font-size="11.2">Cd163</text>
<text x="470.00" y="326.81" font-size="11.2">Arg2</text>
<text x="470.00" y="335.76" font-size="11.2">Cd274</text>
<text x="470.00" y="344.71" font-size="11.2">Il10</text>
<text x="470.00" y="353.65" font-size="11.2">Il1rn</text>
<text x="470.00" y="362.60" font-size="11.2">Ccl4</text>
<text x="470.00" y="371.55" font-size="11.2">Tgfb3</text>
<text x="470.00" y="380.50" font-size="11.2">Cd276</text>
<text x="470.00" y="389.45" font-size="11.2">Ccl17</text>
<text x="470.00" y="398.39" font-size="11.2">Fn1</text>
<text x="470.00" y="407.34" font-size="11.2">Fcgr2b</text>
<text x="470.00" y="416.29" font-size="11.2">Il1r2</text>
<text x="470.00" y="425.24" font-size="11.2">Tgfb2</text>
<text x="470.00" y="434.19" font-size="11.2">Arg1</text>
<text x="470.00" y="443.13" font-size="11.2">Pdcd1lg2</text>
<text x="395.60" y="454.06" font-size="11.3" text-anchor="middle">1</text>
<text x="409.00" y="454.06" font-size="11.3" text-anchor="middle">2</text>
<text x="422.40" y="454.06" font-size="11.3" text-anchor="middle">6</text>
<text x="435.70" y="454.06" font-size="11.3" text-anchor="middle">4</text>
<text x="448.60" y="454.06" font-size="11.3" text-anchor="middle">5</text>
<text x="461.80" y="454.06" font-size="11.3" text-anchor="middle">3</text>
<defs><linearGradient id="gj" x1="0" y1="0" x2="0" y2="1"><stop offset="0.0000" stop-color="#FF0000"/><stop offset="0.5000" stop-color="#FFFFFF"/><stop offset="1.0000" stop-color="#0000FF"/></linearGradient></defs>
<rect x="528.00" y="276.20" width="7.10" height="100.20" fill="url(#gj)"/>
<text x="549.80" y="286.17" font-size="11.3" text-anchor="end">2</text>
<text x="549.80" y="308.87" font-size="11.3" text-anchor="end">1</text>
<text x="549.80" y="331.57" font-size="11.3" text-anchor="end">0</text>
<text x="549.80" y="353.97" font-size="11.3" text-anchor="end">-1</text>
<text x="549.80" y="376.07" font-size="11.3" text-anchor="end">-2</text>
<text x="542.60" y="253.90" font-size="11.3" text-anchor="middle">-Log<tspan font-size="7.0" dy="2">10</tspan></text>
<text x="542.60" y="266.80" font-size="11.3" text-anchor="middle">(<tspan font-style="italic">p-value</tspan>)</text>
<text x="380.00" y="341.00" font-size="11.3" text-anchor="middle" transform="rotate(-90 380.00 341.00)">Gene cluster</text>
<path d="M374.00 393.50 V461.70 H386.00" fill="none" stroke="#000" stroke-width="1.5"/>
<path d="M374.00 388.50 l-4.2 8.2 h8.4 z" fill="#000"/>
<path d="M391.00 461.70 l-8.2 -4.2 v8.4 z" fill="#000"/>
<text x="396.70" y="467.00" font-size="11.3">Single cell sub-cluster</text>
<rect x="651.20" y="269.80" width="44.90" height="14.00" fill="#FF4081"/>
<text x="579.00" y="280.19" font-size="11.3">sc-1</text>
<rect x="651.20" y="289.40" width="8.80" height="14.20" fill="#FF4081"/>
<text x="579.00" y="299.89" font-size="11.3">sc-2</text>
<rect x="651.20" y="309.20" width="3.30" height="14.40" fill="#FF4081"/>
<text x="579.00" y="319.79" font-size="11.3">sc-6</text>
<rect x="643.00" y="329.00" width="8.20" height="14.00" fill="#92D050"/>
<text x="579.00" y="339.39" font-size="11.3">sc-4</text>
<rect x="634.90" y="348.60" width="16.30" height="14.40" fill="#92D050"/>
<text x="579.00" y="359.19" font-size="11.3">sc-5</text>
<rect x="605.90" y="368.00" width="45.30" height="14.40" fill="#92D050"/>
<text x="579.00" y="378.59" font-size="11.3">sc-3</text>
<text x="616.70" y="265.47" font-size="11.3" text-anchor="middle">-0.1</text>
<text x="651.00" y="265.47" font-size="11.3" text-anchor="middle">0</text>
<text x="682.30" y="265.47" font-size="11.3" text-anchor="middle">0.1</text>
<text x="646.00" y="401.20" font-size="11.3" text-anchor="middle">anti-inflammatory score</text>
</svg>
</body>
</html>
